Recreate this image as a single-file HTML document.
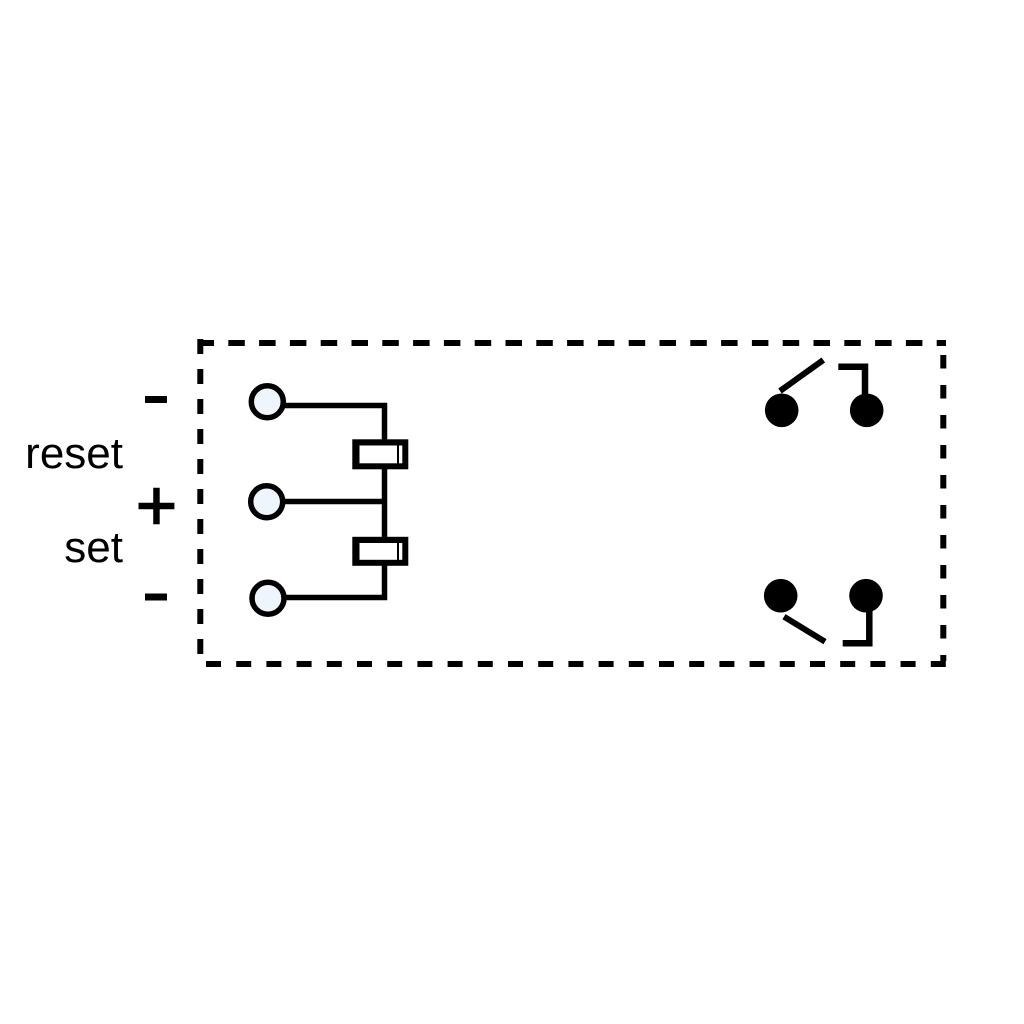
<!DOCTYPE html>
<html>
<head>
<meta charset="utf-8">
<style>
  html, body { margin:0; padding:0; background:#fff; }
  body { width:1024px; height:1024px; overflow:hidden; }
  svg { display:block; }
  text { font-family: "Liberation Sans", Arial, sans-serif; fill:#000; }
</style>
</head>
<body>
<svg width="1024" height="1024" viewBox="0 0 1024 1024" xmlns="http://www.w3.org/2000/svg">
  <rect x="0" y="0" width="1024" height="1024" fill="#fff"/>

  <!-- dashed enclosure -->
  <g stroke="#000" stroke-width="6" fill="none">
    <line x1="197.5" y1="343" x2="946" y2="343" stroke-dasharray="16.5 14.3"/>
    <line x1="200.3" y1="339" x2="200.3" y2="656" stroke-dasharray="15 15"/>
    <line x1="206" y1="664" x2="947" y2="664" stroke-dasharray="15 15.2"/>
    <line x1="943.3" y1="355" x2="943.3" y2="661" stroke-dasharray="13.5 16.5"/>
  </g>

  <!-- left wiring -->
  <g stroke="#000" stroke-width="5.5" fill="none" stroke-linejoin="miter">
    <path d="M 275 405.5 H 384.5 V 597.5 H 275"/>
    <path d="M 275 501.5 H 384.5"/>
  </g>

  <!-- coils -->
  <rect x="352.3" y="439.3" width="56" height="30" fill="#000"/>
  <rect x="359.5" y="445.5" width="37.5" height="17.8" fill="#fff"/>
  <rect x="399" y="445.5" width="3.3" height="17.8" fill="#fff"/>

  <rect x="352.3" y="536.8" width="56" height="29" fill="#000"/>
  <rect x="359.5" y="543" width="37.5" height="16.8" fill="#fff"/>
  <rect x="399" y="543" width="3.3" height="16.8" fill="#fff"/>

  <!-- open terminals -->
  <g stroke="#000" stroke-width="5.5" fill="#eef5fc">
    <circle cx="267.3" cy="401.7" r="16"/>
    <circle cx="266.7" cy="501.7" r="16"/>
    <circle cx="268" cy="598.3" r="16"/>
  </g>

  <!-- right contacts -->
  <g fill="#000">
    <circle cx="781.7" cy="410.3" r="16.8"/>
    <circle cx="866.7" cy="410.3" r="16.8"/>
    <circle cx="780.7" cy="595.7" r="16.8"/>
    <circle cx="866" cy="595.7" r="16.8"/>
  </g>
  <g stroke="#000" stroke-width="6" fill="none" stroke-linejoin="miter">
    <line x1="780" y1="391" x2="823.3" y2="360"/>
    <path d="M 838.3 366.7 H 865 V 400" stroke-width="6.5"/>
    <line x1="784" y1="616.7" x2="825" y2="641.7"/>
    <path d="M 869.3 605 V 643.3 H 842.7" stroke-width="6.5"/>
  </g>

  <!-- labels -->
  <text x="123" y="468" font-size="44" text-anchor="end">reset</text>
  <text x="123" y="562" font-size="44" text-anchor="end">set</text>
  <text x="156.5" y="530" font-size="71" text-anchor="middle" stroke="#000" stroke-width="1.4">+</text>
  <text x="156" y="423.5" font-size="90" text-anchor="middle">-</text>
  <text x="156" y="621" font-size="90" text-anchor="middle">-</text>
</svg>
</body>
</html>
